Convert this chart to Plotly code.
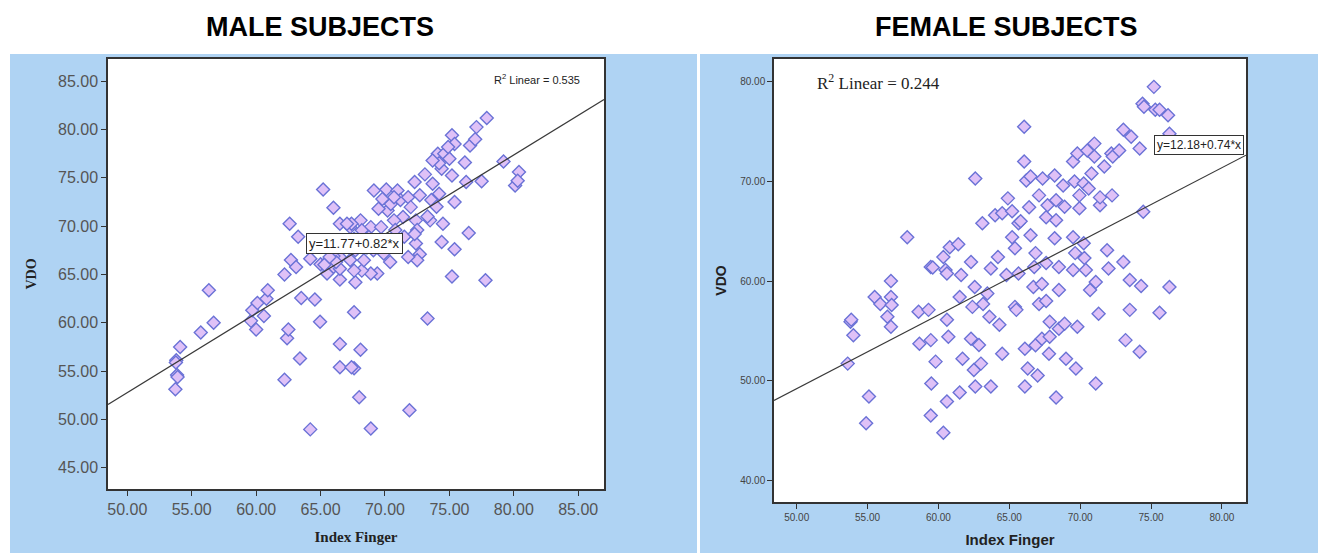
import plotly.graph_objects as go

W, H = 1318, 553

# ---------------- data: male subjects ----------------
male_x = [53.73, 53.86, 53.9, 53.8, 53.77, 54.1, 55.7, 56.33, 56.7, 59.6, 59.7, 60.0, 60.1, 60.6, 60.8, 60.9,
          62.2, 62.4, 62.5, 62.2, 62.6, 62.7, 63.1, 63.26, 63.4, 63.5, 64.2, 64.56, 64.96, 65.0, 65.2, 65.6,
          66.0, 65.5, 66.0, 66.5, 66.5, 66.5, 66.5, 66.5, 66.0, 64.2,
          67.6, 67.6, 67.7, 68.1, 67.4, 68.0, 71.9, 68.9,
          69.14, 70.1, 70.97, 72.3, 73.1, 73.7, 74.2, 74.1, 74.6, 75.2, 77.1, 77.9, 75.4, 75.0, 74.4, 75.2,
          76.2, 76.6, 77.0, 79.2, 80.4, 80.1, 76.3, 77.5, 75.4, 74.5, 73.5, 73.3, 72.4, 72.5, 72.4, 72.7,
          72.5, 74.4, 75.4, 76.5, 75.2, 77.8, 73.3, 71.8, 70.4, 69.4, 68.9, 68.2, 67.6, 68.36, 69.1, 69.9,
          68.6, 67.7, 67.3, 68.1, 68.9, 69.7, 70.2, 69.5, 70.45, 71.2, 71.8, 70.7, 69.8, 72.7, 72.0, 71.4,
          70.7, 71.5, 70.7, 72.3, 73.6, 74.0, 74.2, 74.9, 73.7, 67.4, 68.2, 68.75, 67.6, 67.3, 67.05, 70.2,
          69.7, 70.8, 66.5, 66.0, 65.3, 66.2, 65.7, 67.15, 80.3]
male_y = [53.13, 54.6, 54.4, 56.13, 55.9, 57.5, 58.99, 63.37, 60.0, 60.2, 61.3, 59.3, 62.06, 60.7, 62.5, 63.37,
          54.1, 58.4, 59.3, 65.0, 70.26, 66.5, 65.77, 68.9, 56.3, 62.57, 66.64, 62.4, 60.1, 66.05, 73.8, 66.47,
          65.77, 65.1, 71.9, 64.47, 57.8, 55.4, 70.26, 66.8, 67.8, 48.97,
          61.1, 55.3, 64.2, 57.2, 55.4, 52.3, 50.96, 49.07,
          73.7, 73.8, 73.7, 74.56, 75.36, 74.4, 73.36, 77.5, 77.5, 79.4, 80.25, 81.2, 78.5, 76.98, 75.95, 75.25,
          76.6, 78.35, 79.0, 76.7, 75.6, 74.2, 74.56, 74.66, 72.5, 70.26, 70.6, 71.0, 70.6, 69.6, 68.2, 67.1,
          66.47, 68.36, 67.6, 69.3, 64.8, 64.4, 60.44, 66.8, 66.3, 65.1, 65.1, 65.4, 65.4, 66.47, 67.5, 67.16,
          67.8, 67.5, 69.9, 70.6, 69.9, 69.9, 71.63, 71.8, 72.3, 72.7, 73.0, 73.0, 72.8, 73.2, 71.97, 70.94,
          70.6, 68.9, 68.7, 69.2, 72.7, 72.0, 76.5, 78.2, 76.8, 70.26, 69.57, 68.88, 68.7, 66.5, 70.26, 68.36,
          68.0, 69.6, 65.6, 66.9, 66.0, 66.3, 66.8, 68.2, 74.7]
male_coef = [11.77, 0.82]
male_r2 = 0.535

# ---------------- data: female subjects ----------------
female_x = [53.6, 53.8, 53.85, 54.0, 55.1, 54.9, 55.5, 55.9, 56.4, 56.65, 56.65, 56.7, 56.65, 57.8, 58.6, 58.66,
            59.3, 59.46, 59.6, 59.46, 59.46, 59.5, 59.8, 60.35, 60.35, 60.5, 60.6, 60.6, 60.7, 60.6, 60.8, 61.4,
            61.6, 61.5, 61.7, 61.5, 62.3, 62.3, 62.4, 62.5, 62.6, 62.56, 62.6, 62.86, 63.0, 63.1, 63.15, 63.45,
            63.6, 63.7, 63.7, 64.2, 64.3, 64.0, 64.5, 64.5, 64.8, 64.9, 65.2, 65.2, 65.4, 65.4, 65.5, 65.65,
            65.65, 65.8, 66.05, 66.05, 66.2, 66.1, 66.1, 66.3, 66.4, 66.5, 66.5, 66.7, 66.76, 66.85, 66.85, 67.0,
            67.1, 67.1, 67.3, 67.3, 67.35, 67.6, 67.6, 67.6, 67.7, 67.85, 67.85, 67.8, 68.2, 68.2, 68.3, 68.3,
            68.3, 68.5, 68.5, 68.5, 68.8, 68.9, 68.9, 69.0, 69.5, 69.5, 69.5, 69.6, 69.65, 69.8, 69.8, 69.7,
            69.95, 69.95, 70.25, 70.25, 70.3, 70.4, 70.5, 70.6, 70.7, 70.8, 71.0, 71.0, 71.1, 71.1, 71.3, 71.4,
            71.4, 71.7, 71.9, 72.0, 72.2, 72.25, 72.3, 72.75, 73.05, 73.05, 73.2, 73.5, 73.5, 73.6, 74.2, 74.2,
            74.3, 74.4, 74.5, 74.45, 75.2, 75.3, 75.6, 75.6, 76.2, 76.3, 76.3]
female_y = [51.7, 55.9, 56.1, 54.56, 48.4, 45.7, 58.4, 57.7, 56.4, 60.0, 58.4, 57.6, 55.4, 64.4, 56.9, 53.7,
            57.1, 61.4, 61.35, 54.06, 46.5, 49.7, 51.9, 44.75, 62.4, 61.1, 60.75, 56.1, 54.4, 47.9, 63.4, 63.7,
            60.6, 58.4, 52.2, 48.8, 61.9, 54.2, 57.4, 51.05, 70.3, 59.4, 49.4, 53.56, 51.7, 65.8, 57.7, 58.75,
            56.4, 61.25, 49.4, 62.4, 55.6, 66.6, 52.7, 66.8, 60.6, 68.3, 64.4, 67.0, 63.3, 57.4, 57.1, 65.8,
            60.75, 66.0, 75.5, 72.0, 70.1, 53.2, 49.4, 51.2, 67.4, 70.5, 64.6, 59.4, 61.4, 62.8, 53.55, 50.5,
            68.6, 57.7, 59.7, 54.2, 70.3, 66.4, 61.8, 58.0, 67.6, 55.9, 54.4, 52.7, 70.6, 64.3, 68.1, 66.1,
            48.3, 61.4, 59.1, 55.2, 69.6, 67.45, 55.7, 52.2, 72.0, 64.4, 61.1, 70.0, 62.8, 72.8, 55.4, 51.2,
            68.6, 67.3, 69.8, 63.8, 62.3, 61.1, 73.1, 69.3, 59.1, 70.8, 73.8, 72.5, 59.9, 49.7, 56.7, 67.6,
            68.4, 71.5, 63.1, 61.25, 72.8, 68.6, 72.5, 73.1, 75.2, 61.9, 54.06, 60.1, 57.1, 74.5, 73.3, 52.9,
            59.5, 77.8, 77.5, 66.95, 79.5, 77.2, 77.2, 56.8, 76.65, 74.8, 59.4]
female_coef = [12.18, 0.74]
female_r2 = 0.244

x_ticks_m = [50, 55, 60, 65, 70, 75, 80, 85]
y_ticks_m = [45, 50, 55, 60, 65, 70, 75, 80, 85]
x_ticks_f = [50, 55, 60, 65, 70, 75, 80]
y_ticks_f = [40, 50, 60, 70, 80]

xr_m, yr_m = [48.5, 87.0], [42.8, 87.3]
xr_f, yr_f = [48.4, 81.7], [37.8, 82.3]

# pixel geometry
def px(x):
    return x / W
def py(y):
    return 1 - y / H

L1, R1, T1, B1 = 108, 604, 59, 489
L2, R2, T2, B2 = 774, 1246, 59, 502

BLUE = "#afd3f3"
FILL = "#dfc1f7"
EDGE = "#6a72d6"

fig = go.Figure()

marker = dict(symbol="diamond", size=10, color=FILL, line=dict(color=EDGE, width=1.4))

fig.add_trace(go.Scatter(x=male_x, y=male_y, mode="markers", marker=marker,
                         xaxis="x", yaxis="y", showlegend=False))
fig.add_trace(go.Scatter(x=xr_m, y=[male_coef[0] + male_coef[1] * v for v in xr_m], mode="lines",
                         line=dict(color="#3a3a3a", width=1.2), xaxis="x", yaxis="y", showlegend=False))
fig.add_trace(go.Scatter(x=female_x, y=female_y, mode="markers", marker=marker,
                         xaxis="x2", yaxis="y2", showlegend=False))
fig.add_trace(go.Scatter(x=xr_f, y=[female_coef[0] + female_coef[1] * v for v in xr_f], mode="lines",
                         line=dict(color="#3a3a3a", width=1.2), xaxis="x2", yaxis="y2", showlegend=False))

axis_common = dict(showgrid=False, zeroline=False, showline=True, mirror=True, linecolor="#333333",
                   linewidth=1.5, ticks="outside", ticklen=5, tickcolor="#333333")

fig.update_layout(
    width=W, height=H, autosize=False,
    margin=dict(l=0, r=0, t=0, b=0),
    paper_bgcolor="white", plot_bgcolor="white",
    xaxis=dict(axis_common, domain=[px(L1), px(R1)], range=xr_m, anchor="y",
               tickvals=x_ticks_m, ticktext=[f"{v:.2f}" for v in x_ticks_m],
               tickfont=dict(family="Arial, Liberation Sans", size=16, color="#555555"),
               title=dict(text="<b>Index Finger</b>", standoff=15,
                          font=dict(family="Liberation Serif, Times New Roman", size=15, color="#222222"))),
    yaxis=dict(axis_common, domain=[py(B1), py(T1)], range=yr_m, anchor="x",
               tickvals=y_ticks_m, ticktext=[f"{v:.2f}" for v in y_ticks_m],
               tickfont=dict(family="Arial, Liberation Sans", size=16, color="#555555"),
               title=dict(text="<b>VDO</b>", standoff=18,
                          font=dict(family="Liberation Serif, Times New Roman", size=14, color="#222222"))),
    xaxis2=dict(axis_common, domain=[px(L2), px(R2)], range=xr_f, anchor="y2",
                tickvals=x_ticks_f, ticktext=[f"{v:.2f}" for v in x_ticks_f],
                tickfont=dict(family="Liberation Sans Narrow, Arial Narrow, Arial", size=10, color="#444444"),
                title=dict(text="<b>Index Finger</b>", standoff=13,
                           font=dict(family="Arial, Liberation Sans", size=15, color="#222222"))),
    yaxis2=dict(axis_common, domain=[py(B2), py(T2)], range=yr_f, anchor="x2",
                tickvals=y_ticks_f, ticktext=[f"{v:.2f}" for v in y_ticks_f],
                tickfont=dict(family="Liberation Sans Narrow, Arial Narrow, Arial", size=10, color="#444444"),
                title=dict(text="<b>VDO</b>", standoff=10,
                           font=dict(family="Arial, Liberation Sans", size=14, color="#222222"))),
)

# blue panels with white plot areas
shapes = [
    dict(type="rect", xref="paper", yref="paper", x0=px(10), x1=px(697), y0=py(553), y1=py(54),
         fillcolor=BLUE, line=dict(width=0), layer="below"),
    dict(type="rect", xref="paper", yref="paper", x0=px(700), x1=px(1318), y0=py(553), y1=py(54),
         fillcolor=BLUE, line=dict(width=0), layer="below"),
    dict(type="rect", xref="paper", yref="paper", x0=px(L1), x1=px(R1), y0=py(B1), y1=py(T1),
         fillcolor="white", line=dict(width=0), layer="below"),
    dict(type="rect", xref="paper", yref="paper", x0=px(L2), x1=px(R2), y0=py(B2), y1=py(T2),
         fillcolor="white", line=dict(width=0), layer="below"),
]
fig.update_layout(shapes=shapes)

title_font = dict(family="Liberation Sans Narrow, Arial Narrow, Arial", size=27, color="black")
annos = [
    dict(text="<b>MALE SUBJECTS</b>", xref="paper", yref="paper", x=px(320), y=py(27),
         showarrow=False, font=title_font, xanchor="center", yanchor="middle"),
    dict(text="<b>FEMALE SUBJECTS</b>", xref="paper", yref="paper", x=px(1006), y=py(27),
         showarrow=False, font=title_font, xanchor="center", yanchor="middle"),
    dict(text=f"y={male_coef[0]:.2f}+{male_coef[1]:.2f}*x", xref="x", yref="y", x=67.6, y=68.2,
         showarrow=False, font=dict(family="Arial, Liberation Sans", size=13, color="#222222"),
         bgcolor="white", bordercolor="#333333", borderwidth=1, borderpad=2),
    dict(text=f"y={female_coef[0]:.2f}+{female_coef[1]:.2f}*x", xref="x2", yref="y2", x=78.35, y=73.7,
         showarrow=False, font=dict(family="Liberation Sans Narrow, Arial Narrow, Arial", size=12, color="#222222"),
         bgcolor="white", bordercolor="#333333", borderwidth=1, borderpad=2),
    dict(text=f"R<sup>2</sup> Linear = {male_r2:.3f}", xref="x", yref="y", x=85.3, y=85.2,
         showarrow=False, xanchor="right", font=dict(family="Arial, Liberation Sans", size=11, color="#222222")),
    dict(text=f"R<sup>2</sup> Linear = {female_r2:.3f}", xref="x2", yref="y2", x=51.3, y=80.0,
         showarrow=False, xanchor="left", font=dict(family="Liberation Serif, Times New Roman", size=17, color="#222222")),
]
fig.update_layout(annotations=annos)

fig.write_html("out.html", config={"displayModeBar": False},
               post_script="document.body.style.margin='0px';")
